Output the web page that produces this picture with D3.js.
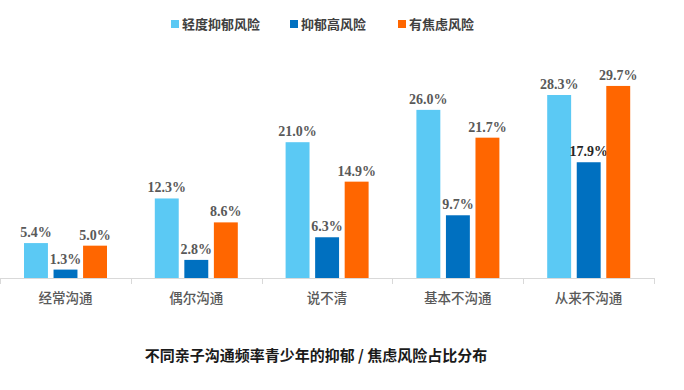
<!DOCTYPE html>
<html><head><meta charset="utf-8">
<script src="https://cdn.jsdelivr.net/npm/d3@7"></script>
<style>body{margin:0;background:#fff}svg{display:block}</style>
</head><body>
<script>
const categories = ["经常沟通","偶尔沟通","说不清","基本不沟通","从来不沟通"];
const seriesNames = ["轻度抑郁风险","抑郁高风险","有焦虑风险"];
const mildDepression = [5.4, 12.3, 21.0, 26.0, 28.3];
const highDepression = [1.3, 2.8, 6.3, 9.7, 17.9];
const anxiety = [5.0, 8.6, 14.9, 21.7, 29.7];
const colors = ["#5BC9F4","#0070C0","#FF6600"];
const title = "不同亲子沟通频率青少年的抑郁 / 焦虑风险占比分布";

const seriesValues = [mildDepression, highDepression, anxiety];
const W = 684, H = 390;
const svg = d3.select("body").append("svg").attr("width", W).attr("height", H);

const x0 = d3.scaleBand().domain(categories).range([0, 654]).padding(0);
const x1 = d3.scaleBand().domain(seriesNames).range([24, 107]).paddingInner(0.19);
const y = d3.scaleLinear().domain([0, 30]).range([278, 84]);

// axis
const axisG = svg.append("g").attr("transform", "translate(0,278)");
axisG.append("line").attr("x1", 0).attr("x2", 654).attr("y1", 0.5).attr("y2", 0.5)
  .attr("stroke", "#d9d9d9").attr("stroke-width", 1);
const tickPos = categories.map(c => x0(c)).concat([x0.range()[1]]);
axisG.selectAll("line.tk").data(tickPos).enter().append("line").attr("class","tk")
  .attr("x1", d => Math.round(d) + 0.5).attr("x2", d => Math.round(d) + 0.5)
  .attr("y1", 0).attr("y2", 6).attr("stroke", "#d9d9d9");
axisG.selectAll("text.cat").data(categories).enter().append("text").attr("class","cat")
  .attr("x", d => x0(d) + x0.bandwidth()/2).attr("y", 25)
  .attr("text-anchor", "middle").attr("font-family", "'Noto Sans CJK SC', sans-serif")
  .attr("font-size", 13.5).attr("font-weight", 500).attr("fill", "#595959").text(d => d);

// bars
const groups = svg.selectAll("g.grp").data(categories).enter().append("g").attr("class","grp")
  .attr("transform", d => `translate(${x0(d)},0)`);
groups.each(function(cat, ci) {
  const g = d3.select(this);
  seriesNames.forEach((s, si) => {
    const v = seriesValues[si][ci];
    g.append("rect").attr("x", x1(s)).attr("width", x1.bandwidth())
      .attr("y", y(v)).attr("height", y(0) - y(v)).attr("fill", colors[si]);
    g.append("text").attr("x", x1(s) + x1.bandwidth()/2).attr("y", y(v) - 6)
      .attr("text-anchor", "middle").attr("font-family", "'Liberation Serif', serif")
      .attr("font-weight", "bold").attr("font-size", 14)
      .attr("fill", (si === 1 && ci === 4) ? "#262626" : "#595959")
      .text(v.toFixed(1) + "%");
  });
});

// legend
const legendX = [171, 290, 398];
const leg = svg.selectAll("g.leg").data(seriesNames).enter().append("g").attr("class","leg")
  .attr("transform", (d, i) => `translate(${legendX[i]},20)`);
leg.append("rect").attr("width", 8).attr("height", 8).attr("fill", (d, i) => colors[i]);
leg.append("text").attr("x", 11).attr("y", 9).attr("font-family", "'Noto Sans CJK SC', sans-serif")
  .attr("font-size", 13).attr("font-weight", "bold").attr("fill", "#404040").text(d => d);

// title
svg.append("text").attr("x", 316).attr("y", 361).attr("text-anchor", "middle")
  .attr("font-family", "'Noto Sans CJK SC', sans-serif").attr("font-weight", "bold")
  .attr("font-size", 15).attr("fill", "#1a1a1a").text(title);
</script>
</body></html>
